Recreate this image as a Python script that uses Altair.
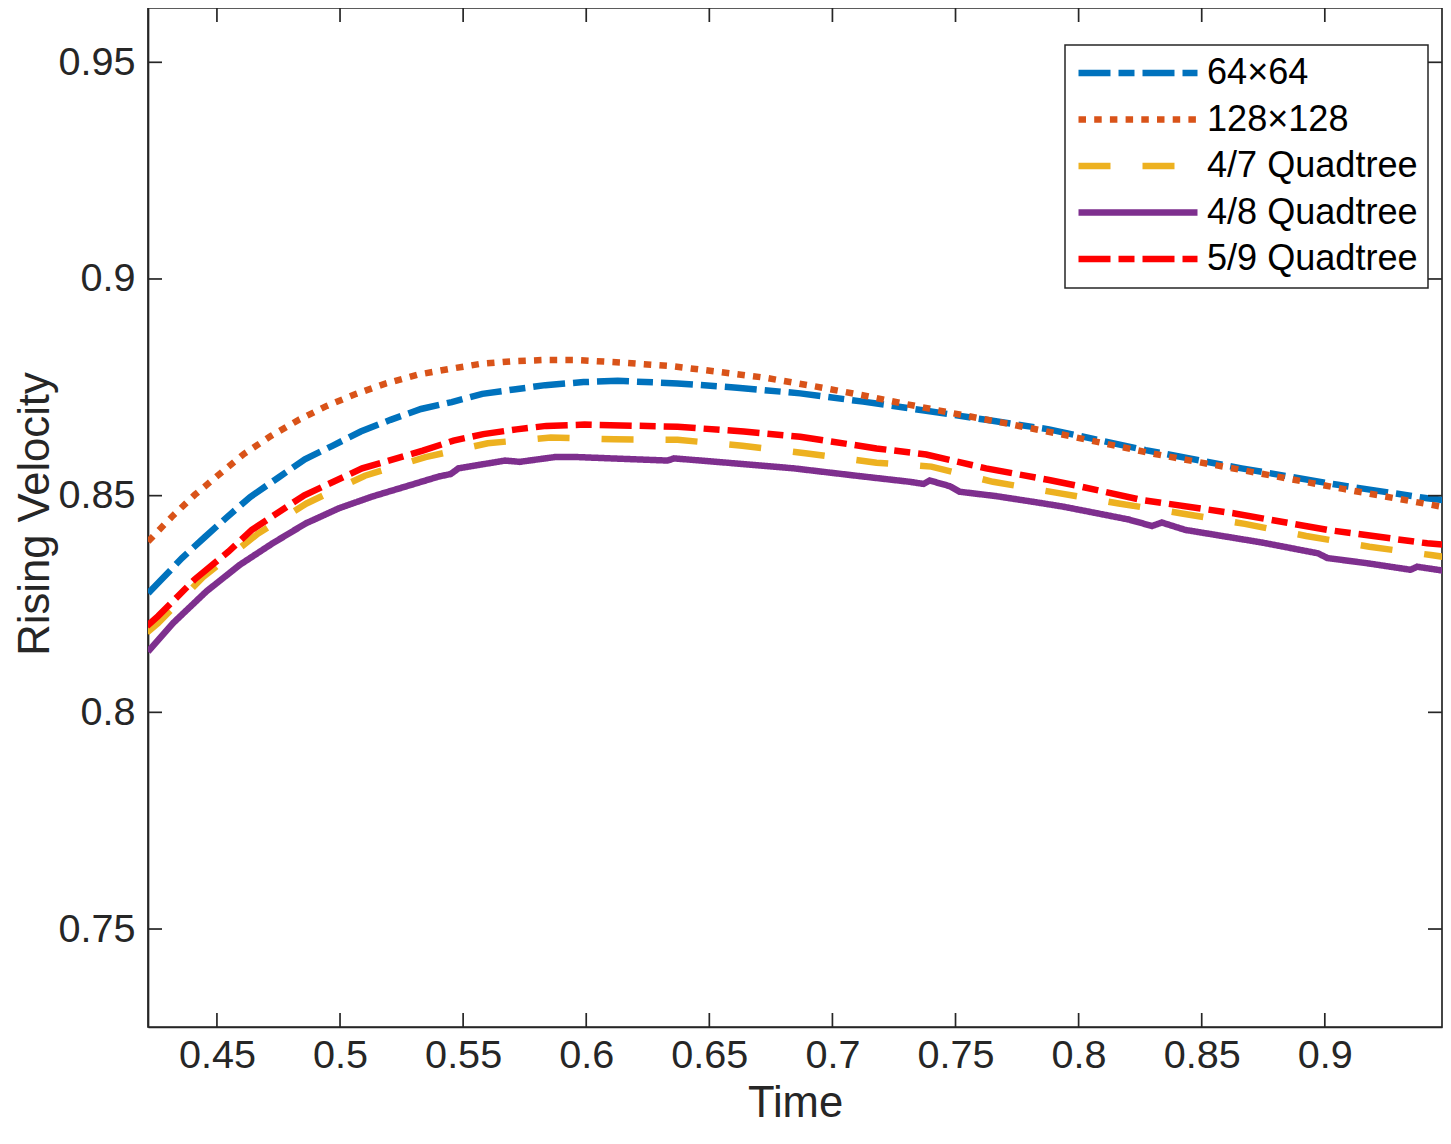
import altair as alt
import pandas as pd

# ---------------- data ----------------
series_names = ["64×64", "128×128", "4/7 Quadtree", "4/8 Quadtree", "5/9 Quadtree"]
series_colors = ["#0072BD", "#D95319", "#EDB120", "#7E2F8E", "#FF0000"]
series_dashes = [[32, 8, 16, 8], [7.5, 8.2], [32, 32], [1, 0], [32, 8, 16, 8]]

t_64 = [0.4221, 0.4264, 0.4358, 0.4450, 0.4540, 0.4635, 0.4750, 0.4857, 0.4969, 0.5084,
        0.5205, 0.5329, 0.5454, 0.5578, 0.5706, 0.5834, 0.5989, 0.6128, 0.6371, 0.6613,
        0.6869, 0.7125, 0.7381, 0.7624, 0.7880, 0.8272, 0.8662, 0.9053, 0.9416, 0.9480]
v_64 = [0.8275, 0.8300, 0.8356, 0.8404, 0.8450, 0.8497, 0.8542, 0.8584, 0.8615, 0.8648,
        0.8675, 0.8700, 0.8716, 0.8735, 0.8745, 0.8755, 0.8762, 0.8765, 0.8759, 0.8749,
        0.8736, 0.8717, 0.8696, 0.8675, 0.8653, 0.8605, 0.8563, 0.8525, 0.8494, 0.8490]

t_128 = [0.4220, 0.4318, 0.4410, 0.4511, 0.4609, 0.4720, 0.4832, 0.4946, 0.5066, 0.5187,
         0.5313, 0.5441, 0.5569, 0.5697, 0.5826, 0.5956, 0.6148, 0.6344, 0.6535, 0.6728,
         0.6921, 0.7112, 0.7301, 0.7492, 0.7685, 0.7934, 0.8311, 0.8702, 0.9080, 0.9480]
v_128 = [0.8394, 0.8452, 0.8502, 0.8550, 0.8596, 0.8638, 0.8675, 0.8707, 0.8735, 0.8759,
         0.8779, 0.8792, 0.8804, 0.8810, 0.8813, 0.8813, 0.8807, 0.8799, 0.8786, 0.8772,
         0.8753, 0.8733, 0.8711, 0.8690, 0.8669, 0.8641, 0.8596, 0.8555, 0.8515, 0.8474]

t_47 = [0.4216, 0.4261, 0.4443, 0.4666, 0.4864, 0.5101, 0.5347, 0.5600, 0.5856, 0.6115,
        0.6371, 0.6634, 0.6890, 0.7179, 0.7402, 0.7652, 0.7907, 0.8163, 0.8419, 0.8675,
        0.8924, 0.9181, 0.9431, 0.9480]
v_47 = [0.8184, 0.8206, 0.8312, 0.8412, 0.8482, 0.8546, 0.8589, 0.8621, 0.8634, 0.8630,
        0.8629, 0.8615, 0.8598, 0.8576, 0.8567, 0.8532, 0.8507, 0.8482, 0.8459, 0.8435,
        0.8407, 0.8382, 0.8363, 0.8359]

t_48 = [0.4220, 0.4322, 0.4457, 0.4592, 0.4726, 0.4861, 0.4996, 0.5131, 0.5266, 0.5400,
        0.5450, 0.5481, 0.5670, 0.5730, 0.5872, 0.5966, 0.6101, 0.6330, 0.6357, 0.6573,
        0.6843, 0.7112, 0.7314, 0.7370, 0.7395, 0.7476, 0.7517, 0.7664, 0.7813, 0.7934,
        0.8069, 0.8203, 0.8298, 0.8338, 0.8433, 0.8743, 0.8972, 0.9011, 0.9173, 0.9348,
        0.9375, 0.9480]
v_48 = [0.8140, 0.8206, 0.8279, 0.8340, 0.8390, 0.8436, 0.8471, 0.8498, 0.8521, 0.8544,
        0.8550, 0.8563, 0.8581, 0.8578, 0.8589, 0.8589, 0.8586, 0.8581, 0.8586, 0.8576,
        0.8563, 0.8545, 0.8532, 0.8527, 0.8535, 0.8522, 0.8509, 0.8499, 0.8486, 0.8475,
        0.8460, 0.8445, 0.8430, 0.8438, 0.8421, 0.8392, 0.8367, 0.8356, 0.8344, 0.8329,
        0.8336, 0.8327]

t_59 = [0.4216, 0.4261, 0.4410, 0.4547, 0.4642, 0.4855, 0.5090, 0.5336, 0.5461, 0.5582,
        0.5717, 0.5838, 0.5993, 0.6371, 0.6640, 0.6869, 0.7179, 0.7381, 0.7624, 0.7880,
        0.8001, 0.8257, 0.8634, 0.9011, 0.9416, 0.9480]
v_59 = [0.8199, 0.8222, 0.8307, 0.8371, 0.8421, 0.8501, 0.8563, 0.8604, 0.8627, 0.8642,
        0.8653, 0.8661, 0.8664, 0.8659, 0.8648, 0.8636, 0.8609, 0.8595, 0.8563, 0.8536,
        0.8522, 0.8490, 0.8459, 0.8421, 0.8390, 0.8387]

x_ticks = [0.45, 0.5, 0.55, 0.6, 0.65, 0.7, 0.75, 0.8, 0.85, 0.9]
y_ticks = [0.75, 0.8, 0.85, 0.9, 0.95]

x_domain = [0.422, 0.9476]
y_domain = [0.72739, 0.96253]

XF = "Time"
YF = "Rising Velocity"

# ---------------- tables ----------------
all_t = [t_64, t_128, t_47, t_48, t_59]
all_v = [v_64, v_128, v_47, v_48, v_59]
rows = []
for name, ts, vs in zip(series_names, all_t, all_v):
    for t, v in zip(ts, vs):
        rows.append({XF: t, YF: v, "Series": name})
df = pd.DataFrame(rows)
df_xt = pd.DataFrame({XF: x_ticks})
df_yt = pd.DataFrame({YF: y_ticks})

# ---------------- layout / style ----------------
W, H = 1294, 1019
FONT = "Liberation Sans"
AX = "#262626"
TICK = 14
LW = 1.7

xscale = alt.Scale(domain=x_domain, nice=False, zero=False)
yscale = alt.Scale(domain=y_domain, nice=False, zero=False)

legend = alt.Legend(
    title=None, orient="none", legendX=917, legendY=37,
    symbolType="stroke", symbolSize=14161, symbolStrokeWidth=6.5,
    symbolOffset=0, labelOffset=6, clipHeight=36, rowPadding=9.5,
    padding=10, fillColor="white", strokeColor=AX,
    labelFont=FONT, labelFontSize=36.1, labelColor="#000000", labelLimit=400,
)

lines = alt.Chart(df).mark_line(strokeWidth=6.5, clip=True).encode(
    x=alt.X(f"{XF}:Q", scale=xscale, axis=alt.Axis(
        values=x_ticks, format="~f", title="Time", ticks=False, tickSize=0,
        grid=False, labelPadding=40, labelBaseline="alphabetic",
        labelFont=FONT, labelFontSize=39.6, labelColor=AX, labelFlush=False,
        labelOverlap=False, domainColor=AX, domainWidth=LW,
        titleFont=FONT, titleFontSize=43.6, titleFontWeight="normal", titleColor=AX,
        titleX=W / 2, titleY=89, titleBaseline="alphabetic", titleAlign="center",
        titleAngle=0,
    )),
    y=alt.Y(f"{YF}:Q", scale=yscale, axis=alt.Axis(
        values=y_ticks, format="~f", title="Rising Velocity", ticks=False, tickSize=0,
        grid=False, labelPadding=13, labelAlign="right", labelBaseline="middle",
        labelFont=FONT, labelFontSize=39.6, labelColor=AX, labelFlush=False,
        labelOverlap=False, domainColor=AX, domainWidth=LW,
        titleFont=FONT, titleFontSize=43.6, titleFontWeight="normal", titleColor=AX,
        titleX=-100, titleY=505.5, titleAngle=270, titleBaseline="alphabetic",
        titleAlign="center",
    )),
    color=alt.Color("Series:N", scale=alt.Scale(domain=series_names, range=series_colors),
                    legend=legend),
    strokeDash=alt.StrokeDash("Series:N", scale=alt.Scale(domain=series_names, range=series_dashes),
                              legend=legend),
)

tick_bottom = alt.Chart(df_xt).mark_rule(color=AX, strokeWidth=LW).encode(
    x=alt.X(f"{XF}:Q", scale=xscale),
    y=alt.value(H - TICK), y2=alt.value(H),
)
tick_top = alt.Chart(df_xt).mark_rule(color=AX, strokeWidth=LW).encode(
    x=alt.X(f"{XF}:Q", scale=xscale),
    y=alt.value(0), y2=alt.value(TICK),
)
tick_left = alt.Chart(df_yt).mark_rule(color=AX, strokeWidth=LW).encode(
    y=alt.Y(f"{YF}:Q", scale=yscale),
    x=alt.value(0), x2=alt.value(TICK),
)
tick_right = alt.Chart(df_yt).mark_rule(color=AX, strokeWidth=LW).encode(
    y=alt.Y(f"{YF}:Q", scale=yscale),
    x=alt.value(W - TICK), x2=alt.value(W),
)

chart = alt.layer(lines, tick_bottom, tick_top, tick_left, tick_right).properties(
    width=W, height=H,
    autosize=alt.AutoSizeParams(type="none"),
    padding={"left": 140, "top": 0, "right": 1, "bottom": 100},
    background="white",
).configure_view(
    stroke=AX, strokeWidth=LW,
).configure_legend(
    strokeWidth=1.5,
)

chart.save("out.html", embed_options={"renderer": "svg", "actions": False})
